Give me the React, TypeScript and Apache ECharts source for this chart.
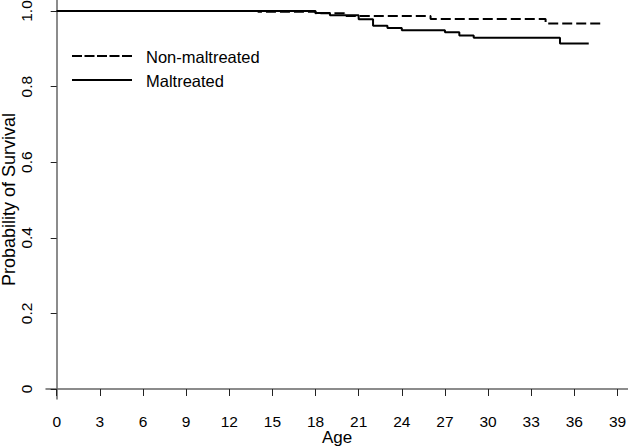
import React, { useEffect, useRef } from "react";
import * as echarts from "echarts";

const xTicks = [0, 3, 6, 9, 12, 15, 18, 21, 24, 27, 30, 33, 36, 39];
const yTicks = [0, 0.2, 0.4, 0.6, 0.8, 1.0];

const nonMaltreatedAge = [0, 14, 18, 20, 26, 34, 38];
const nonMaltreatedSurv = [1.0, 0.998, 0.994, 0.987, 0.979, 0.967, 0.967];

const maltreatedAge = [0, 18, 19, 21, 22, 23, 24, 27, 28, 29, 35, 37];
const maltreatedSurv = [1.0, 0.995, 0.989, 0.978, 0.961, 0.955, 0.949, 0.944, 0.935, 0.929, 0.914, 0.914];

const seriesNames = ["Non-maltreated", "Maltreated"];

const FONT = "'Liberation Sans', Arial, sans-serif";

export default function App() {
  const ref = useRef<HTMLDivElement>(null);

  useEffect(() => {
    if (!ref.current) return;
    const chart = echarts.init(ref.current, undefined, { renderer: "svg" });
    const nm = nonMaltreatedAge.map((a, i) => [a, nonMaltreatedSurv[i]]);
    const m = maltreatedAge.map((a, i) => [a, maltreatedSurv[i]]);
    chart.setOption({
      animation: false,
      backgroundColor: "#ffffff",
      grid: { left: 46, right: 0, top: 0, bottom: 48, containLabel: false, outerBoundsMode: "none" },
      xAxis: {
        type: "value",
        min: -0.744,
        max: 39.73,
        name: "Age",
        nameLocation: "middle",
        nameGap: 30,
        nameMoveOverlap: false,
        nameTextStyle: { fontFamily: FONT, fontSize: 17, color: "#000" },
        axisLine: { show: true, lineStyle: { color: "#666", width: 1.5 } },
        axisTick: { show: true, length: 7, customValues: xTicks, lineStyle: { color: "#222", width: 1 } },
        axisLabel: {
          customValues: xTicks,
          margin: 14,
          fontFamily: FONT,
          fontSize: 15.5,
          color: "#000",
        },
        splitLine: { show: false },
      },
      yAxis: {
        type: "value",
        min: -0.02646,
        max: 1.0291,
        name: "Probability of Survival",
        nameLocation: "middle",
        nameGap: 28,
        nameMoveOverlap: false,
        nameTextStyle: { fontFamily: FONT, fontSize: 18, color: "#000" },
        axisLine: { show: true, lineStyle: { color: "#666", width: 1.5 } },
        axisTick: { show: true, length: 6, customValues: yTicks, lineStyle: { color: "#222", width: 1 } },
        axisLabel: {
          customValues: yTicks,
          rotate: 90,
          margin: 12,
          fontFamily: FONT,
          fontSize: 15.5,
          color: "#000",
          formatter: (v: number) => (v === 0 ? "0" : v.toFixed(1)),
        },
        splitLine: { show: false },
      },
      series: [
        {
          name: seriesNames[0],
          type: "line",
          step: "end",
          data: nm,
          symbol: "none",
          lineStyle: { color: "#000", width: 2, type: [10, 4] },
        },
        {
          name: seriesNames[1],
          type: "line",
          step: "end",
          data: m,
          symbol: "none",
          lineStyle: { color: "#000", width: 2, type: "solid" },
        },
      ],
      graphic: [
        {
          type: "line",
          shape: { x1: 72, y1: 56, x2: 132, y2: 56 },
          style: { stroke: "#000", lineWidth: 2, lineDash: [10, 2.5] },
        },
        {
          type: "line",
          shape: { x1: 72, y1: 80, x2: 132, y2: 80 },
          style: { stroke: "#000", lineWidth: 2 },
        },
        {
          type: "text",
          x: 146,
          y: 57,
          style: { text: seriesNames[0], fontFamily: FONT, fontSize: 16.5, fill: "#000", verticalAlign: "middle" },
        },
        {
          type: "text",
          x: 146,
          y: 81,
          style: { text: seriesNames[1], fontFamily: FONT, fontSize: 16.5, fill: "#000", verticalAlign: "middle" },
        },
      ],
    });
    return () => chart.dispose();
  }, []);

  return (
    <div
      ref={ref}
      style={{ position: "fixed", left: 0, top: 0, width: 628, height: 447, background: "#fff" }}
    />
  );
}
